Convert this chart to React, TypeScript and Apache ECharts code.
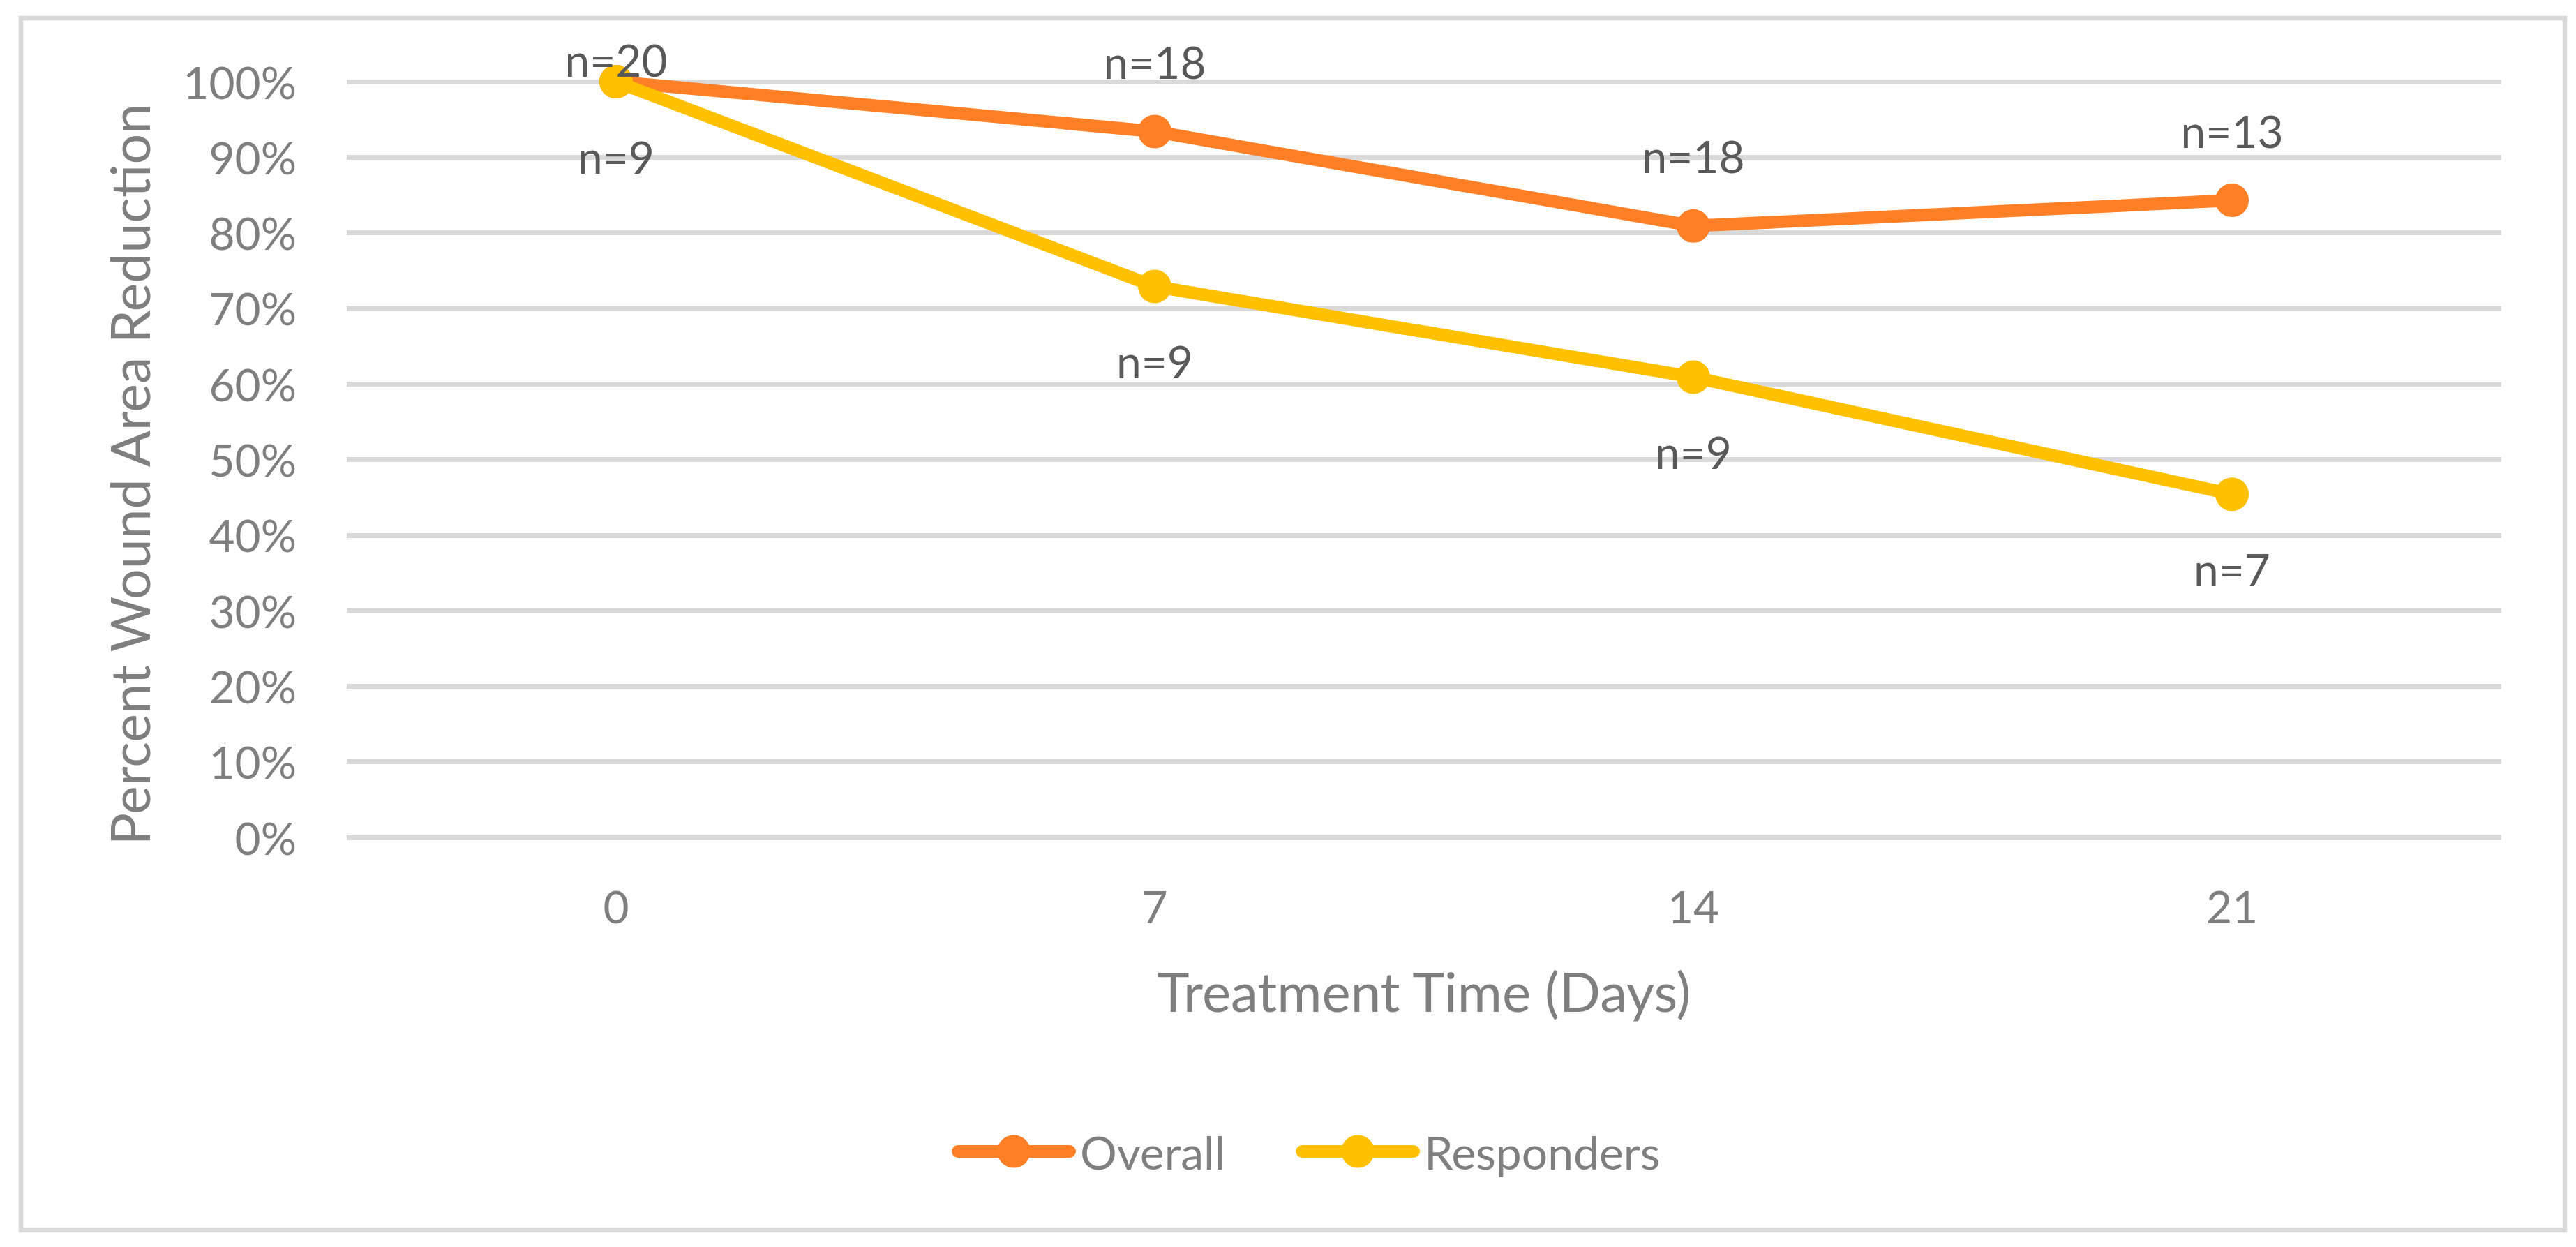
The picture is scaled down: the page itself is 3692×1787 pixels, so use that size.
import React, { useEffect, useRef } from "react";
import * as echarts from "echarts";

const days = ["0", "7", "14", "21"];
const overall = [1.0, 0.934, 0.809, 0.843];
const responders = [1.0, 0.729, 0.609, 0.454];
const overallN = [20, 18, 18, 13];
const respondersN = [9, 9, 9, 7];
const yTicks = [0, 0.1, 0.2, 0.3, 0.4, 0.5, 0.6, 0.7, 0.8, 0.9, 1.0];

const overallLabelOffset = [-32, -100, -100, -100];
const respondersLabelOffset = [107, 107, 107, 107];

const FONT = "Lato, 'Liberation Sans', sans-serif";
const ORANGE = "#FF7F27";
const YELLOW = "#FFC000";

export default function App() {
  const ref = useRef<HTMLDivElement>(null);
  useEffect(() => {
    if (!ref.current) return;
    const chart = echarts.init(ref.current, undefined, { renderer: "svg" });
    const labelStyle = {
      show: true,
      position: "inside",
      fontSize: 64,
      lineHeight: 64,
      fontFamily: FONT,
      color: "#595959",
      align: "center",
      verticalAlign: "middle",
    };
    const mk = (vals: number[], ns: number[], offs: number[]) =>
      vals.map((v, i) => ({
        value: v,
        label: { ...labelStyle, offset: [0, offs[i]], formatter: "n=" + ns[i] },
      }));
    chart.setOption({
      animation: false,
      backgroundColor: "#ffffff",
      textStyle: { fontFamily: FONT },
      graphic: [
        {
          type: "rect",
          shape: { x: 30, y: 26, width: 3646, height: 1737 },
          style: { fill: "none", stroke: "#d9d9d9", lineWidth: 6.5 },
          z: -1,
        },
        {
          type: "text",
          x: 185,
          y: 680,
          rotation: Math.PI / 2,
          style: {
            text: "Percent Wound Area Reduction",
            fontSize: 77,
            fontFamily: FONT,
            fill: "#7f7f7f",
            align: "center",
            verticalAlign: "middle",
          },
        },
      ],
      grid: { left: 497, right: 107, top: 117, bottom: 587, containLabel: false },
      legend: {
        left: 1359,
        top: 1612,
        itemWidth: 160,
        itemHeight: 59,
        itemGap: 101,
        textStyle: { fontSize: 66, color: "#7f7f7f", fontFamily: FONT, padding: [0, 0, 0, 10] },
        lineStyle: { width: 18, cap: "round" },
        data: ["Overall", "Responders"],
      },
      xAxis: {
        type: "category",
        data: days,
        boundaryGap: true,
        axisLine: { show: false },
        axisTick: { show: false },
        axisLabel: { fontSize: 64, lineHeight: 64, color: "#7f7f7f", margin: 66, fontFamily: FONT },
        name: "Treatment Time (Days)",
        nameLocation: "middle",
        nameGap: 181,
        nameTextStyle: { fontSize: 78, lineHeight: 78, color: "#7f7f7f", fontFamily: FONT },
      },
      yAxis: {
        type: "value",
        min: yTicks[0],
        max: yTicks[yTicks.length - 1],
        interval: 0.1,
        axisLine: { show: false },
        axisTick: { show: false },
        splitLine: { lineStyle: { color: "#d9d9d9", width: 7 } },
        axisLabel: {
          fontSize: 64,
          color: "#7f7f7f",
          margin: 72,
          fontFamily: FONT,
          formatter: (v: number) => Math.round(v * 100) + "%",
        },
      },
      series: [
        {
          name: "Overall",
          type: "line",
          data: mk(overall, overallN, overallLabelOffset),
          symbol: "circle",
          symbolSize: 48,
          lineStyle: { color: ORANGE, width: 18 },
          itemStyle: { color: ORANGE },
        },
        {
          name: "Responders",
          type: "line",
          data: mk(responders, respondersN, respondersLabelOffset),
          symbol: "circle",
          symbolSize: 48,
          lineStyle: { color: YELLOW, width: 18 },
          itemStyle: { color: YELLOW },
        },
      ],
    });
    return () => chart.dispose();
  }, []);
  return (
    <div
      ref={ref}
      style={{ position: "absolute", left: 0, top: 0, width: 3692, height: 1787, background: "#fff" }}
    />
  );
}
